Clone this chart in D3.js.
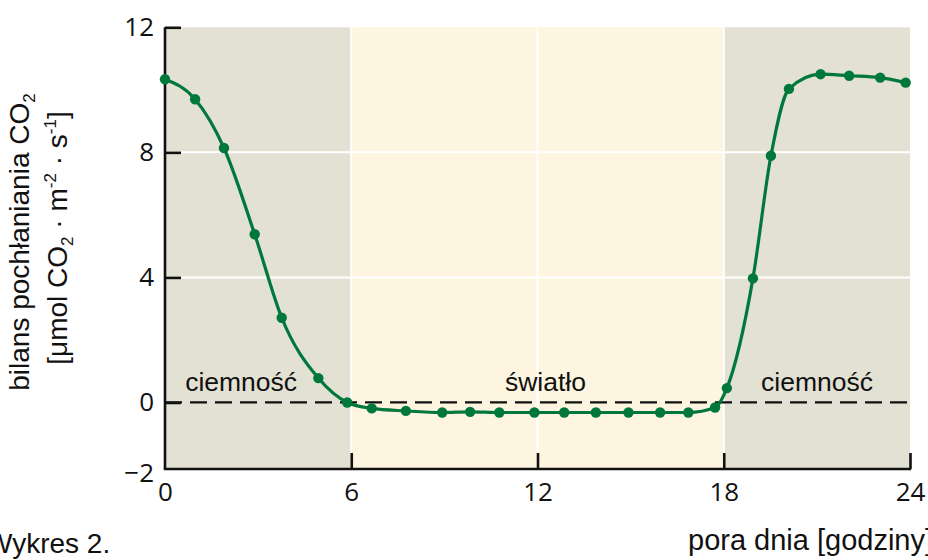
<!DOCTYPE html>
<html>
<head>
<meta charset="utf-8">
<script src="https://cdn.jsdelivr.net/npm/d3@7"></script>
<style>
  body { margin: 0; background: #fff; }
  svg { display: block; }
</style>
</head>
<body>
<svg id="chart" width="928" height="560"></svg>
<script>
// data
const hours = [0, 0.97, 1.9, 2.89, 3.76, 4.94, 5.87, 6.66, 7.76, 8.93, 9.83, 10.77, 11.9, 12.86,
               13.88, 14.93, 15.95, 16.86, 17.72, 18.1, 18.94, 19.52, 20.1, 21.12, 22.04, 23.04, 23.86];
const co2 = [10.34, 9.7, 8.14, 5.38, 2.71, 0.78, 0, -0.19, -0.27, -0.32, -0.3, -0.32, -0.32, -0.32,
             -0.32, -0.32, -0.32, -0.32, -0.16, 0.46, 3.97, 7.89, 10.03, 10.5, 10.45, 10.39, 10.23];
const xTicks = [0, 6, 12, 18, 24];
const yTicks = [12, 8, 4, 0, -2];
const periods = [
  {from: 0, to: 6, name: 'ciemność'},
  {from: 6, to: 18, name: 'światło'},
  {from: 18, to: 24, name: 'ciemność'}
];
const periodLabelX = [0.65, 10.95, 19.2];

const svg = d3.select('#chart');
const green = '#00783c';
const dark = '#e3e1d3';
const light = '#fdf5df';

const x = d3.scaleLinear().domain([0, 24]).range([165, 910]);
const y = d3.scaleLinear().domain([-2, 12]).range([465, 27.3]);
const axisY = 469; // x axis sits a bit below -2

// background bands
svg.selectAll('rect.band')
  .data(periods)
  .enter()
  .append('rect')
  .attr('class', 'band')
  .attr('x', d => x(d.from))
  .attr('y', y(12))
  .attr('width', d => x(d.to) - x(d.from))
  .attr('height', axisY - y(12))
  .attr('fill', d => d.name === 'światło' ? light : dark);

// white grid
svg.append('g')
  .selectAll('line')
  .data([6, 12, 18])
  .enter()
  .append('line')
  .attr('x1', d => x(d)).attr('x2', d => x(d))
  .attr('y1', y(12)).attr('y2', axisY)
  .attr('stroke', '#fff').attr('stroke-width', 2);
svg.append('g')
  .selectAll('line')
  .data([4, 8])
  .enter()
  .append('line')
  .attr('x1', x(0)).attr('x2', x(24))
  .attr('y1', d => y(d)).attr('y2', d => y(d))
  .attr('stroke', '#fff').attr('stroke-width', 2);

// zero line
svg.append('line')
  .attr('x1', x(0)).attr('x2', x(24))
  .attr('y1', y(0)).attr('y2', y(0))
  .attr('stroke', '#111').attr('stroke-width', 2.2)
  .attr('stroke-dasharray', '17,8');

// axes
const xAxis = svg.append('g')
  .attr('transform', `translate(0,${axisY})`)
  .call(d3.axisBottom(x).tickValues(xTicks).tickSize(-16).tickSizeOuter(0).tickPadding(14));
xAxis.select('.domain').attr('d', `M${x(0) - 1.2},0H${x(24) + 1}`);
xAxis.selectAll('.tick').filter(d => d === 0).select('line').remove();

const yAxis = svg.append('g')
  .attr('transform', `translate(${x(0)},0)`)
  .call(d3.axisLeft(y).tickValues(yTicks).tickSize(-16).tickSizeOuter(0).tickPadding(11)
    .tickFormat(d => d < 0 ? '\u2212' + Math.abs(d) : d));
yAxis.select('.domain').attr('d', `M0,${y(12)}V${axisY}`);
yAxis.selectAll('.tick').filter(d => d === -2).select('line').remove();
yAxis.selectAll('.tick').filter(d => d === -2).select('text').attr('dy', '0.65em');

svg.selectAll('.domain, .tick line').attr('stroke', '#111').attr('stroke-width', 2.6);
svg.selectAll('.tick text')
  .attr('fill', '#111')
  .style('font-family', '"Open Sans", sans-serif')
  .style('font-size', '26px');

// curve + points
const line = d3.line()
  .x((d, i) => x(hours[i]))
  .y(d => y(d))
  .curve(d3.curveMonotoneX);

svg.append('path')
  .attr('d', line(co2))
  .attr('fill', 'none')
  .attr('stroke', green)
  .attr('stroke-width', 3.2);

svg.append('g')
  .selectAll('circle')
  .data(co2)
  .enter()
  .append('circle')
  .attr('cx', (d, i) => x(hours[i]))
  .attr('cy', d => y(d))
  .attr('r', 5.2)
  .attr('fill', green);

// text
const font = '"Liberation Sans", Arial, sans-serif';

svg.append('g')
  .selectAll('text')
  .data(periods)
  .enter()
  .append('text')
  .attr('x', (d, i) => x(periodLabelX[i]))
  .attr('y', 391)
  .style('font-family', font)
  .style('font-size', '26.5px')
  .attr('fill', '#111')
  .text(d => d.name);

const yl1 = svg.append('text')
  .attr('transform', 'translate(29,242) rotate(-90)')
  .attr('text-anchor', 'middle')
  .style('font-family', font).style('font-size', '28px').attr('fill', '#111');
yl1.append('tspan').text('bilans pochłaniania CO');
yl1.append('tspan').attr('dy', 6).style('font-size', '17px').text('2');

const yl2 = svg.append('text')
  .attr('transform', 'translate(67,238) rotate(-90)')
  .attr('text-anchor', 'middle')
  .style('font-family', font).style('font-size', '28px').attr('fill', '#111');
yl2.append('tspan').text('[μmol CO');
yl2.append('tspan').attr('dy', 6).style('font-size', '17px').text('2');
yl2.append('tspan').attr('dy', -6).text(' · m');
yl2.append('tspan').attr('dy', -11).style('font-size', '17px').text('-2');
yl2.append('tspan').attr('dy', 11).text(' · s');
yl2.append('tspan').attr('dy', -11).style('font-size', '17px').text('-1');
yl2.append('tspan').attr('dy', 11).text(']');

svg.append('text')
  .attr('x', -14).attr('y', 553)
  .style('font-family', font).style('font-size', '28px').attr('fill', '#111')
  .text('Wykres 2.');

svg.append('text')
  .attr('x', 688).attr('y', 550)
  .style('font-family', font).style('font-size', '29px').attr('fill', '#111')
  .text('pora dnia [godziny]');
</script>
</body>
</html>
